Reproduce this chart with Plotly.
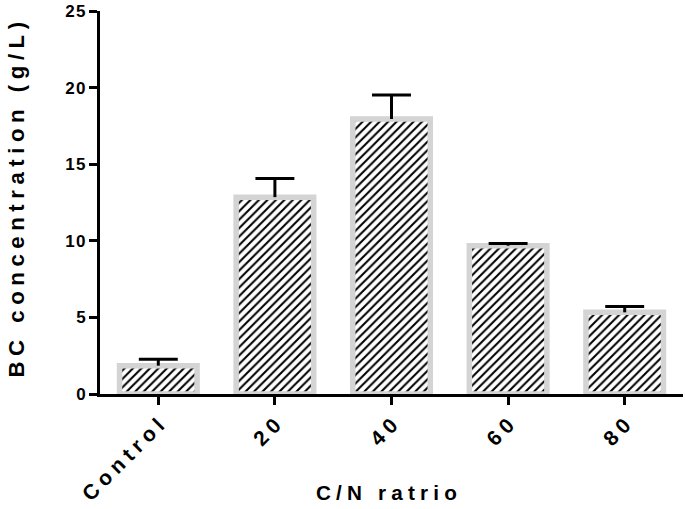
import plotly.graph_objects as go

categories = ["Control", "20", "40", "60", "80"]
bc_values = [1.85, 12.85, 17.95, 9.68, 5.33]
bc_errors = [0.42, 1.22, 1.57, 0.15, 0.38]
y_ticks = [0, 5, 10, 15, 20, 25]
x_title = "C/N ratrio"
y_title = "BC concentration (g/L)"

SP = "\u2005"


def spaced(s, sp=SP):
    return sp.join(list(s))


tick_text_x = [spaced(c) for c in categories]
tick_text_y = [spaced(str(v), "\u200a") for v in y_ticks]
x_pos = list(range(len(categories)))

BAR_W = 0.665
CAP_HALF = 0.167  # half-width of error-bar cap, in category units

fig = go.Figure()
fig.add_trace(go.Bar(
    x=x_pos, y=bc_values, width=BAR_W,
    marker=dict(
        color="white",
        line=dict(color="#d4d4d4", width=5.5),
        pattern=dict(shape="/", fgcolor="black", bgcolor="white", size=6, solidity=0.34, fgopacity=1),
    ),
))

# upper-only error bars (stem + cap), built from the data arrays
ex, ey = [], []
for xi, v, e in zip(x_pos, bc_values, bc_errors):
    ex += [xi, xi, None, xi - CAP_HALF, xi + CAP_HALF, None]
    ey += [v, v + e, None, v + e, v + e, None]
fig.add_trace(go.Scatter(x=ex, y=ey, mode="lines",
                         line=dict(color="black", width=3),
                         hoverinfo="skip", connectgaps=False))

font_family = "Liberation Sans, Arial, sans-serif"

L, R, T, B = 100, 2, 11, 115
H = 509
plot_h = H - T - B

fig.update_layout(
    width=685, height=H,
    margin=dict(l=L, r=R, t=T, b=B),
    paper_bgcolor="white", plot_bgcolor="white",
    showlegend=False,
    font=dict(family=font_family, color="black"),
    annotations=[
        dict(text=spaced(x_title), xref="paper", yref="paper",
             x=(386 - L) / (685 - L - R), y=0, xanchor="center", yanchor="middle",
             yshift=-(492.5 - (H - B)), showarrow=False,
             font=dict(size=20.7, weight="bold", family=font_family, color="black")),
        dict(text=spaced(y_title), xref="paper", yref="paper",
             x=0, y=((H - B) - 199.5) / plot_h, xanchor="center", yanchor="middle",
             xshift=16 - L, textangle=-90, showarrow=False,
             font=dict(size=22.2, weight="bold", family=font_family, color="black")),
    ],
)
fig.update_xaxes(
    range=[-0.5, len(categories) - 0.5],
    automargin=False,
    tickmode="array", tickvals=x_pos, ticktext=tick_text_x,
    tickangle=-45,
    tickfont=dict(size=21, weight="bold", family=font_family),
    showline=True, linecolor="black", linewidth=3,
    ticks="outside", ticklen=8, tickwidth=3, tickcolor="black",
    showgrid=False, zeroline=False,
)
fig.update_yaxes(
    range=[0, 25],
    automargin=False,
    tickmode="array", tickvals=y_ticks, ticktext=tick_text_y,
    tickfont=dict(size=17, weight="bold", family=font_family),
    showline=True, linecolor="black", linewidth=3,
    ticks="outside", ticklen=8, tickwidth=3, tickcolor="black",
    showgrid=False, zeroline=False,
)

fig.write_html("out.html", config={"displayModeBar": False},
               post_script="document.body.style.margin='0';")
